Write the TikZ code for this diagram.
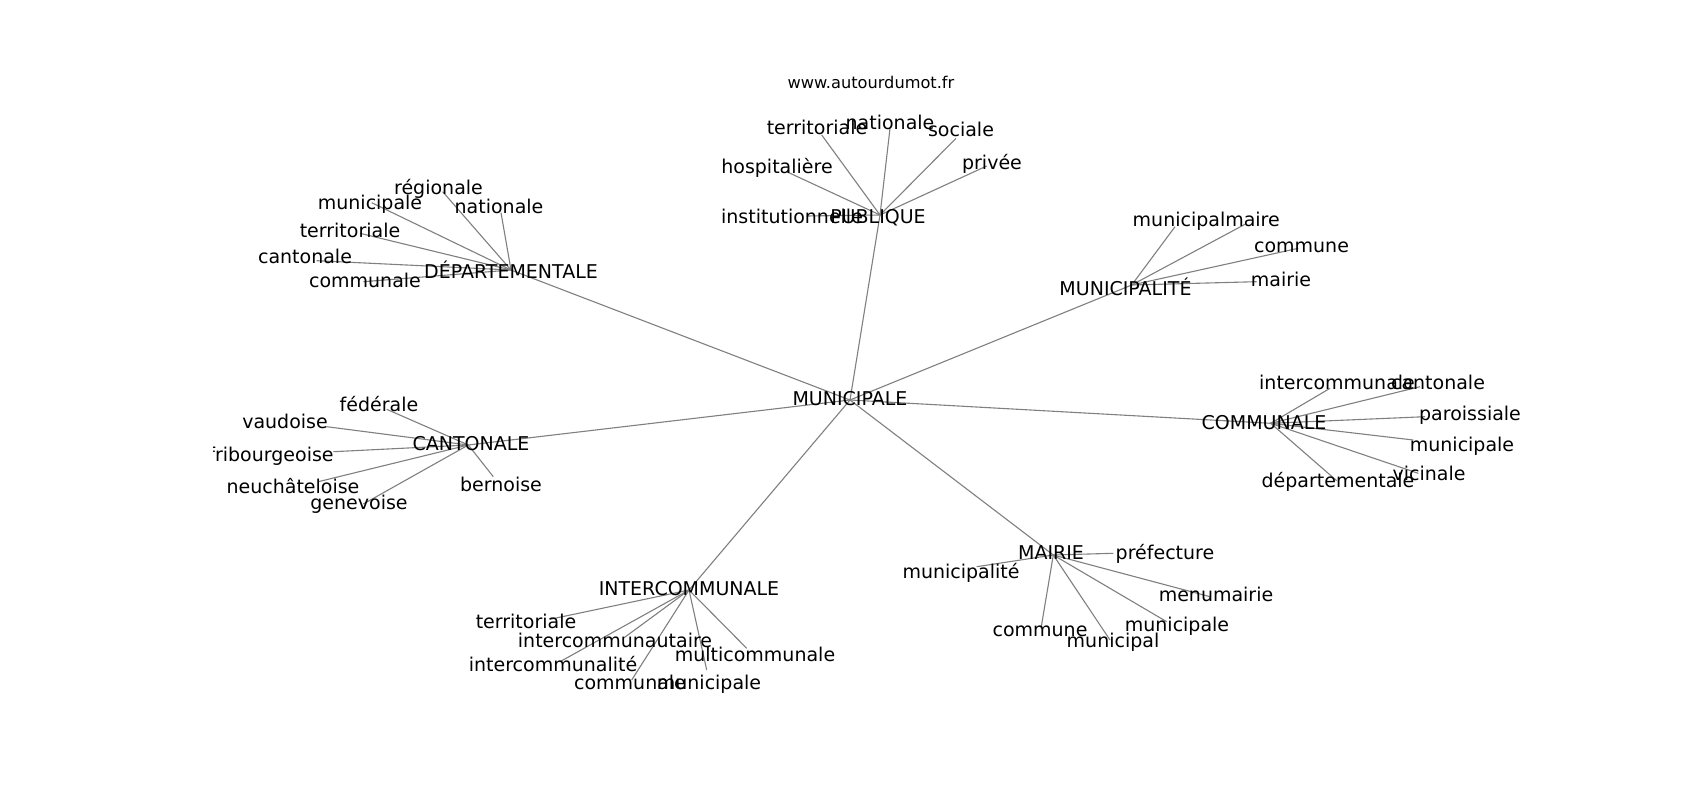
\documentclass[tikz,border=0pt]{standalone}
\usepackage{fontspec}
\setmainfont{DejaVu Sans}
\begin{document}
\begin{tikzpicture}[x=1pt,y=-1pt,
  lbl/.style={font=\fontsize{19}{22}\selectfont, inner sep=0pt, text height=13.85pt, text depth=0pt, anchor=center},
  wm/.style={font=\fontsize{16.2}{19}\selectfont, inner sep=0pt, text height=11.8pt, text depth=0pt, anchor=center},
  edge/.style={draw=black!50, line width=1.1pt}]
\useasboundingbox[fill=white] (0,0) rectangle (1700,800);
% hub points
\coordinate (c-mun) at (850,400);
\coordinate (c-dep) at (511,270);
\coordinate (c-pub) at (880,215);
\coordinate (c-mty) at (1131.7,285);
\coordinate (c-com) at (1270.7,423.3);
\coordinate (c-can) at (468.3,445);
\coordinate (c-int) at (689,590);
\coordinate (c-mai) at (1053.3,555);
% leaf end points
\coordinate (e-dep1) at (442.7,191.7);
\coordinate (e-dep2) at (371.7,202.7);
\coordinate (e-dep3) at (501,212.7);
\coordinate (e-dep4) at (360,233.3);
\coordinate (e-dep5) at (316.7,260.7);
\coordinate (e-dep6) at (363.3,281.7);
\coordinate (e-pub1) at (821.7,135);
\coordinate (e-pub2) at (890,128.3);
\coordinate (e-pub3) at (956,138.3);
\coordinate (e-pub4) at (986.7,166);
\coordinate (e-pub5) at (786.7,171.7);
\coordinate (e-pub6) at (806.7,216);
\coordinate (e-mty1) at (1175,226.7);
\coordinate (e-mty2) at (1245,224.3);
\coordinate (e-mty3) at (1298.3,248.3);
\coordinate (e-mty4) at (1256.7,281.7);
\coordinate (e-com1) at (1330,388.3);
\coordinate (e-com2) at (1420,386.7);
\coordinate (e-com3) at (1425,416.7);
\coordinate (e-com4) at (1413.3,440);
\coordinate (e-com5) at (1418.3,473.3);
\coordinate (e-com6) at (1336.7,480.7);
\coordinate (e-can1) at (386.7,409.3);
\coordinate (e-can2) at (326.7,426.7);
\coordinate (e-can3) at (333.3,451.7);
\coordinate (e-can4) at (318.3,481.7);
\coordinate (e-can5) at (363.3,504);
\coordinate (e-can6) at (493.3,476.7);
\coordinate (e-int1) at (550,619.3);
\coordinate (e-int2) at (623.3,638.3);
\coordinate (e-int3) at (560,661.7);
\coordinate (e-int4) at (746.7,648.3);
\coordinate (e-int5) at (631.7,680);
\coordinate (e-int6) at (706.7,670);
\coordinate (e-mai1) at (1113.3,553.3);
\coordinate (e-mai2) at (976.7,566.7);
\coordinate (e-mai3) at (1210,596.7);
\coordinate (e-mai4) at (1166.7,621.7);
\coordinate (e-mai5) at (1041,628.3);
\coordinate (e-mai6) at (1110,640);
% edges
\foreach \h in {dep,pub,mty,com,can,int,mai} { \draw[edge] (c-mun) -- (c-\h); }
\foreach \i in {1,...,6} {
  \draw[edge] (c-dep) -- (e-dep\i);
  \draw[edge] (c-pub) -- (e-pub\i);
  \draw[edge] (c-com) -- (e-com\i);
  \draw[edge] (c-can) -- (e-can\i);
  \draw[edge] (c-int) -- (e-int\i);
  \draw[edge] (c-mai) -- (e-mai\i);
}
\foreach \i in {1,...,4} { \draw[edge] (c-mty) -- (e-mty\i); }
% labels
\node[wm] (wm) at (871,83) {www.autourdumot.fr};
\begin{scope}
\clip (213.3,96) rectangle (1530,712);
\node[lbl] (mun) at (850,399) {MUNICIPALE};
\node[lbl] (dep) at (511,272) {DÉPARTEMENTALE};
\node[lbl] (dep1) at (438.5,188) {régionale};
\node[lbl] (dep2) at (370,203) {municipale};
\node[lbl] (dep3) at (499,207) {nationale};
\node[lbl] (dep4) at (350,231) {territoriale};
\node[lbl] (dep5) at (305,257) {cantonale};
\node[lbl] (dep6) at (365,281) {communale};
\node[lbl] (pub) at (878,217) {PUBLIQUE};
\node[lbl] (pub1) at (817,128) {territoriale};
\node[lbl] (pub2) at (890,123) {nationale};
\node[lbl] (pub3) at (961,130) {sociale};
\node[lbl] (pub4) at (992,163) {privée};
\node[lbl] (pub5) at (777,167) {hospitalière};
\node[lbl] (pub6) at (792,217) {institutionnelle};
\node[lbl] (mty) at (1125.5,289) {MUNICIPALITÉ};
\node[lbl] (mty1) at (1179,220) {municipal};
\node[lbl] (mty2) at (1252.5,219.3) {maire};
\node[lbl] (mty3) at (1301.5,246) {commune};
\node[lbl] (mty4) at (1281,279.3) {mairie};
\node[lbl] (com) at (1264,423) {COMMUNALE};
\node[lbl] (com1) at (1337,383) {intercommunale};
\node[lbl] (com2) at (1438,383) {cantonale};
\node[lbl] (com3) at (1470,414) {paroissiale};
\node[lbl] (com4) at (1462,445) {municipale};
\node[lbl] (com5) at (1429,474) {vicinale};
\node[lbl] (com6) at (1338,481) {départementale};
\node[lbl] (can) at (471,444) {CANTONALE};
\node[lbl] (can1) at (379,405) {fédérale};
\node[lbl] (can2) at (285,422) {vaudoise};
\node[lbl] (can3) at (271,455) {fribourgeoise};
\node[lbl] (can4) at (293,487) {neuchâteloise};
\node[lbl] (can5) at (359,503) {genevoise};
\node[lbl] (can6) at (501,485) {bernoise};
\node[lbl] (int) at (689,589) {INTERCOMMUNALE};
\node[lbl] (int1) at (526,622) {territoriale};
\node[lbl] (int2) at (615,641) {intercommunautaire};
\node[lbl] (int3) at (553,665) {intercommunalité};
\node[lbl] (int4) at (755,655) {multicommunale};
\node[lbl] (int5) at (630,683) {communale};
\node[lbl] (int6) at (709,683) {municipale};
\node[lbl] (mai) at (1051,552.7) {MAIRIE};
\node[lbl] (mai1) at (1165,553) {préfecture};
\node[lbl] (mai2) at (961,571.7) {municipalité};
\node[lbl] (mai3) at (1216,595) {menumairie};
\node[lbl] (mai4) at (1177,624.3) {municipale};
\node[lbl] (mai5) at (1040,630) {commune};
\node[lbl] (mai6) at (1113,641) {municipal};
\end{scope}
\end{tikzpicture}
\end{document}
